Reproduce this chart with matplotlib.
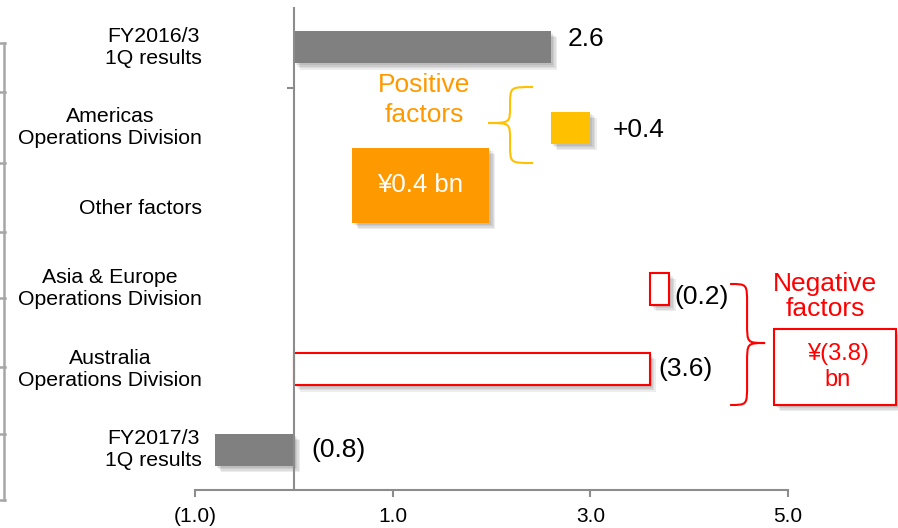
import matplotlib
matplotlib.use('Agg')
import matplotlib.pyplot as plt
import matplotlib.patheffects as pe
import matplotlib.transforms as mtransforms
from matplotlib.patches import Rectangle, PathPatch
from matplotlib.path import Path
from matplotlib.lines import Line2D

plt.rcParams['font.family'] = ['Liberation Sans', 'DejaVu Sans']

# waterfall: operating income bridge (¥ bn)
categories = ['FY2016/3\n1Q results', 'Americas\nOperations Division', 'Other factors',
              'Asia & Europe\nOperations Division', 'Australia\nOperations Division',
              'FY2017/3\n1Q results']
values = [2.6, 0.4, None, -0.2, -3.6, -0.8]
bases = [0.0, 2.6, None, 3.8, 3.6, 0.0]
kinds = ['total', 'pos', None, 'neg', 'neg', 'total']
xticks = [-1, 1, 3, 5]
xticklabels = ['(1.0)', '1.0', '3.0', '5.0']

GRAY = '#808080'
GOLD = '#FFC000'
ORANGE = '#FF9900'
RED = '#FF0000'
AXIS = '#8C8C8C'

W, H = 898, 528
fig = plt.figure(figsize=(W / 100, H / 100), dpi=100)
ax = fig.add_axes([195 / W, 1 - 490 / H, 593 / W, 483 / H])
ax.set_xlim(-1, 5)
ax.set_ylim(5.5, -0.5)

shadow = [pe.SimplePatchShadow(offset=(d, -d), shadow_rgbFace='k', alpha=0.07)
          for d in (1.5, 2.5, 3.5, 4.5)] + [pe.Normal()]


def fmt(v, kind):
    if v < 0:
        return '({:.1f})'.format(abs(v))
    if kind == 'pos':
        return '+{:.1f}'.format(v)
    return '{:.1f}'.format(v)


# label offsets in pixels (dx from bar end, dy upward)
label_dx = [17, 22, 0, 5, 9, 18]
label_dy = [8, -2, 0, -8, 0, 0]

for i, (v, b, k) in enumerate(zip(values, bases, kinds)):
    if v is None:
        continue
    if k == 'total':
        style = dict(color=GRAY)
    elif k == 'pos':
        style = dict(color=GOLD)
    else:
        style = dict(facecolor='white', edgecolor=RED, linewidth=1.5)
    bars = ax.barh(i, v, left=b, height=0.4, zorder=3, **style)
    for bar in bars:
        bar.set_path_effects(shadow)
    end = max(b, b + v)
    ax.annotate(fmt(v, k), xy=(end, i), xytext=(label_dx[i] * 0.72, label_dy[i] * 0.72),
                textcoords='offset points', ha='left', va='center', fontsize=19,
                color='black', zorder=5)

# category labels left of the plot
lab_tr = mtransforms.blended_transform_factory(ax.transAxes, ax.transData)
for i, c in enumerate(categories):
    ax.text(0.0118, i, c, transform=lab_tr, ha='right', va='center',
            multialignment='center', fontsize=15.3, linespacing=1.17)

# axes styling
for s in ['top', 'right', 'left']:
    ax.spines[s].set_visible(False)
ax.spines['bottom'].set_color(AXIS)
ax.spines['bottom'].set_linewidth(1.5)
ax.axvline(0, color=AXIS, lw=1.5, zorder=4)
ax.plot([-0.06, 0], [0.5, 0.5], color=AXIS, lw=1.5, zorder=4)
ax.set_yticks([])
ax.set_xticks(xticks)
ax.set_xticklabels(xticklabels, fontsize=15)
ax.tick_params(axis='x', direction='out', length=5, width=1.5, color=AXIS, pad=7.5)


def brace(x_end, x_body, x_tip, y_top, y_mid, y_bot, r):
    verts = [(x_end, y_top),
             (x_body, y_top), (x_body, y_top), (x_body, y_top + r),
             (x_body, y_mid - r),
             (x_body, y_mid), (x_body, y_mid), (x_tip, y_mid),
             (x_body, y_mid), (x_body, y_mid), (x_body, y_mid + r),
             (x_body, y_bot - r),
             (x_body, y_bot), (x_body, y_bot), (x_end, y_bot)]
    codes = [Path.MOVETO, Path.CURVE4, Path.CURVE4, Path.CURVE4, Path.LINETO,
             Path.CURVE4, Path.CURVE4, Path.CURVE4, Path.CURVE4, Path.CURVE4, Path.CURVE4,
             Path.LINETO, Path.CURVE4, Path.CURVE4, Path.CURVE4]
    return Path(verts, codes)


pos_total = sum(v for v, k in zip(values, kinds) if k == 'pos')
neg_total = sum(v for v, k in zip(values, kinds) if k == 'neg')

# positive factors
ax.text(1.316, 0.655, 'Positive\nfactors', ha='center', va='center', fontsize=19,
        color=ORANGE, linespacing=1.3)
ax.add_patch(PathPatch(brace(2.42, 2.188, 1.965, 0.494, 0.941, 1.438, 0.22),
                       fill=False, edgecolor=GOLD, lw=1.5, zorder=4))
box = Rectangle((0.589, 1.251), 1.387, 0.932, facecolor=ORANGE, edgecolor='none', zorder=3)
box.set_path_effects(shadow)
ax.add_patch(box)
ax.text(1.28, 1.717, '¥{:.1f} bn'.format(pos_total), ha='center', va='center',
        fontsize=18.5, color='white', zorder=5)

# negative factors
ax.text(5.374, 3.096, 'Negative\nfactors', ha='center', va='center', fontsize=19,
        color=RED, linespacing=1.1, clip_on=False)
ax.add_patch(PathPatch(brace(4.414, 4.586, 4.768, 2.941, 3.674, 4.444, 0.25),
                       fill=False, edgecolor=RED, lw=1.5, zorder=4, clip_on=False))
nbox = Rectangle((4.857, 3.5), 1.24, 0.944, facecolor='white', edgecolor=RED, lw=1.5,
                 zorder=3, clip_on=False)
nbox.set_path_effects(shadow)
ax.add_patch(nbox)
ax.text(5.505, 3.972, '¥({:.1f})\nbn'.format(abs(neg_total)), ha='center', va='center',
        fontsize=17, color=RED, linespacing=1.27, zorder=5, clip_on=False)

# bracket strip along the left edge
LEFT = '#A6A6A6'
strip_y = [43, 92, 163, 232, 298, 367, 434, 500]
fig.add_artist(Line2D([4 / W, 4 / W], [1 - strip_y[0] / H, 1 - strip_y[-1] / H],
                      color=LEFT, lw=1.8, transform=fig.transFigure))
for yy in strip_y:
    fig.add_artist(Line2D([0, 5 / W], [1 - yy / H, 1 - yy / H],
                          color=LEFT, lw=1.8, transform=fig.transFigure))

fig.savefig('out.png', dpi=100)
